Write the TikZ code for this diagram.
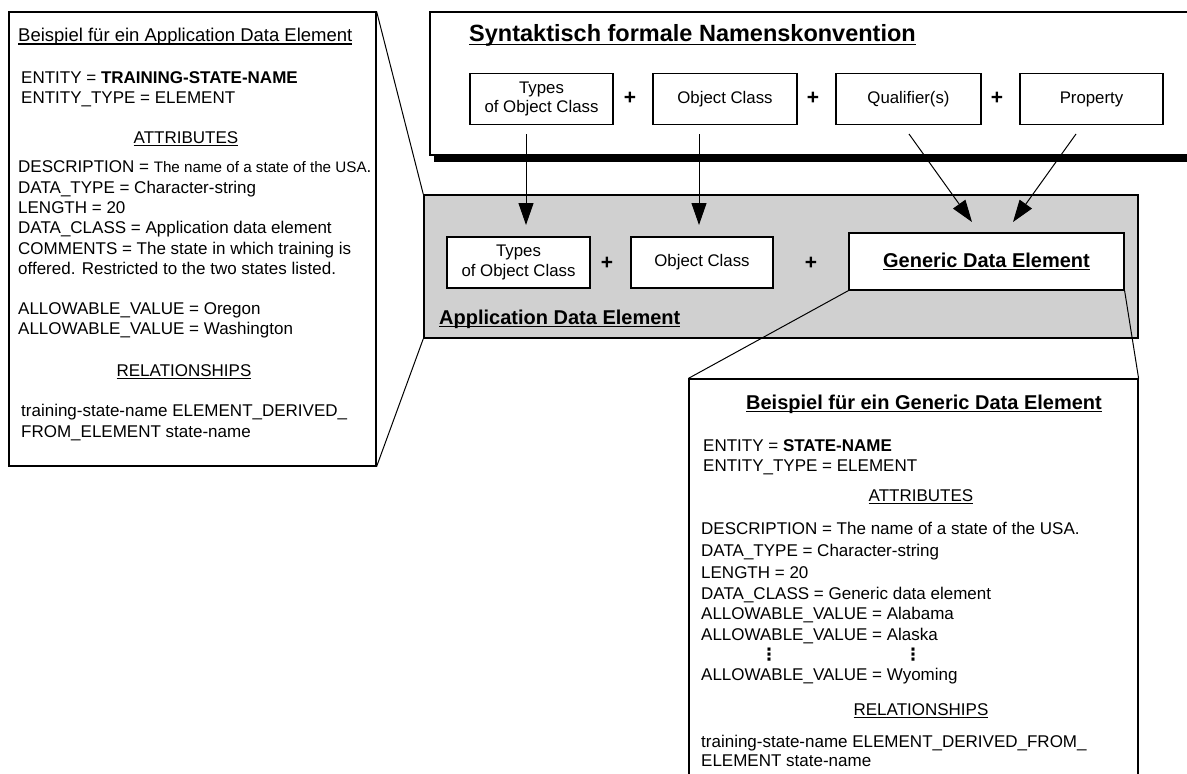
\documentclass[tikz,border=0pt]{standalone}
\usepackage{fontspec}
\setmainfont{Liberation Sans}
\newfontfamily\djv{DejaVu Sans}
\usetikzlibrary{arrows.meta}
\newcommand\fs[1]{\fontsize{#1}{#1}\selectfont}
\newcommand\ulx[1]{\setbox0\hbox{#1}\leavevmode\rlap{\rule[-0.17em]{\wd0}{0.075em}}\box0}
\definecolor{greyfill}{RGB}{208,208,208}
\begin{document}
\begin{tikzpicture}[x=1pt,y=-1pt,
  frame/.style={draw, line width=1.2pt, inner sep=0, minimum width=#1},
  box/.style={draw, line width=1.2pt, fill=white, inner sep=0, align=center, font=\fs{16.8}, minimum height=51pt},
  plus/.style={font=\bfseries\fs{21}, inner sep=0},
  txt/.style={anchor=base west, inner sep=0, font=\fs{17}},
  ctxt/.style={anchor=base, inner sep=0, font=\fs{17}},
  arr/.style={line width=1pt, -{Triangle[length=22pt,width=15pt]}},
  conn/.style={line width=1pt}]
\useasboundingbox (0,0) rectangle (1187,774);
\clip (0,0) rectangle (1187,774);

% top frame with shadow
\node[fill=black, inner sep=0, minimum width=770pt, minimum height=143pt] (Tsh) at (819,90.5) {};
\node[frame=770pt, fill=white, minimum height=143pt] (T) at (815,83.5) {};
\node[anchor=base west, inner sep=0, font=\bfseries\fs{23.5}] (ttl) at (469,41.5) {\ulx{Syntaktisch formale Namenskonvention}};
\node[box, minimum width=143pt] (t1) at (541.5,99) {Types\\[3pt]of Object Class};
\node[plus] (p1) at (630,98) {+};
\node[box, minimum width=144pt] (t2) at (725,99) {Object Class};
\node[plus] (p2) at (813,98) {+};
\node[box, minimum width=145pt] (t3) at (908.5,99) {Qualifier(s)};
\node[plus] (p3) at (997,98) {+};
\node[box, minimum width=143pt] (t4) at (1091.5,99) {Property};

% grey application data element frame
\node[frame=714pt, fill=greyfill, minimum height=143pt, line width=1.4pt] (G) at (781,266.5) {};
\node[box, minimum width=143pt] (a1) at (518.5,262.5) {Types\\[3pt]of Object Class};
\node[plus] (p4) at (607,263) {+};
\node[box, minimum width=142pt] (a2) at (702,262.5) {Object Class};
\node[plus] (p5) at (811,263) {+};
\node[box, minimum width=275pt, minimum height=57pt, font=\bfseries\fs{20}] (gen) at (986.5,261.5) {\ulx{Generic Data Element}};
\node[anchor=base west, inner sep=0, font=\bfseries\fs{20}] (ade) at (439,324) {\ulx{Application Data Element}};

% arrows
\coordinate (s1) at (526,134); \coordinate (e1) at (526,225);
\coordinate (s2) at (699,134); \coordinate (e2) at (699,225);
\coordinate (s3) at (909,134); \coordinate (e3) at (972,222);
\coordinate (s4) at (1076,134); \coordinate (e4) at (1013,222);
\draw[arr] (s1) -- (e1);
\draw[arr] (s2) -- (e2);
\draw[arr] (s3) -- (e3);
\draw[arr] (s4) -- (e4);

% left example box
\node[frame=367pt, fill=white, minimum height=454pt] (L) at (192.5,239) {};
\node[txt, font=\fs{18.5}] (l0) at (18,41.5) {\ulx{Beispiel für ein Application Data Element}};
\node[txt] (l1) at (21,83) {ENTITY = \textbf{TRAINING-STATE-NAME}};
\node[txt] (l2) at (21,103) {ENTITY\_TYPE = ELEMENT};
\node[ctxt] (l3) at (186,143) {\ulx{ATTRIBUTES}};
\node[txt] (l4) at (18,172) {DESCRIPTION = {\fs{15.2}The name of a state of the USA}.};
\node[txt] (l5) at (18,193) {DATA\_TYPE = Character-string};
\node[txt] (l6) at (18,213) {LENGTH = 20};
\node[txt] (l7) at (18,233) {DATA\_CLASS = Application data element};
\node[txt] (l8) at (18,254) {COMMENTS = The state in which training is};
\node[txt] (l9) at (18,274) {offered. Restricted to the two states listed.};
\node[txt] (l10) at (18,314) {ALLOWABLE\_VALUE = Oregon};
\node[txt] (l11) at (18,334) {ALLOWABLE\_VALUE = Washington};
\node[ctxt] (l12) at (184,376) {\ulx{RELATIONSHIPS}};
\node[txt] (l13) at (21,416) {training-state-name ELEMENT\_DERIVED\_};
\node[txt] (l14) at (21,437) {FROM\_ELEMENT state-name};

% bottom-right example box
\node[frame=449pt, fill=white, minimum height=421pt] (B) at (913.5,589.5) {};
\node[ctxt, font=\bfseries\fs{20}] (b0) at (924,409) {\ulx{Beispiel für ein Generic Data Element}};
\node[txt] (b1) at (703,451) {ENTITY = \textbf{STATE-NAME}};
\node[txt] (b2) at (703,471) {ENTITY\_TYPE = ELEMENT};
\node[ctxt] (b3) at (921,501) {\ulx{ATTRIBUTES}};
\node[txt] (b4) at (701,534) {DESCRIPTION = The name of a state of the USA.};
\node[txt] (b5) at (701,556) {DATA\_TYPE = Character-string};
\node[txt] (b6) at (701,578) {LENGTH = 20};
\node[txt] (b7) at (701,599) {DATA\_CLASS = Generic data element};
\node[txt] (b8) at (701,619) {ALLOWABLE\_VALUE = Alabama};
\node[txt] (b9) at (701,640) {ALLOWABLE\_VALUE = Alaska};
\node[inner sep=0, font=\djv\bfseries\fs{17}] (d1) at (769,655) {⋮};
\node[inner sep=0, font=\djv\bfseries\fs{17}] (d2) at (913,655) {⋮};
\node[txt] (b10) at (701,680) {ALLOWABLE\_VALUE = Wyoming};
\node[ctxt] (b11) at (921,715) {\ulx{RELATIONSHIPS}};
\node[txt] (b12) at (701,747) {training-state-name ELEMENT\_DERIVED\_FROM\_};
\node[txt] (b13) at (701,766) {ELEMENT state-name};

% connectors
\draw[conn] (L.north east) -- (G.north west);
\draw[conn] (L.south east) -- (G.south west);
\draw[conn] (gen.south west) -- (B.north west);
\draw[conn] (gen.south east) -- (B.north east);
\end{tikzpicture}
\end{document}
